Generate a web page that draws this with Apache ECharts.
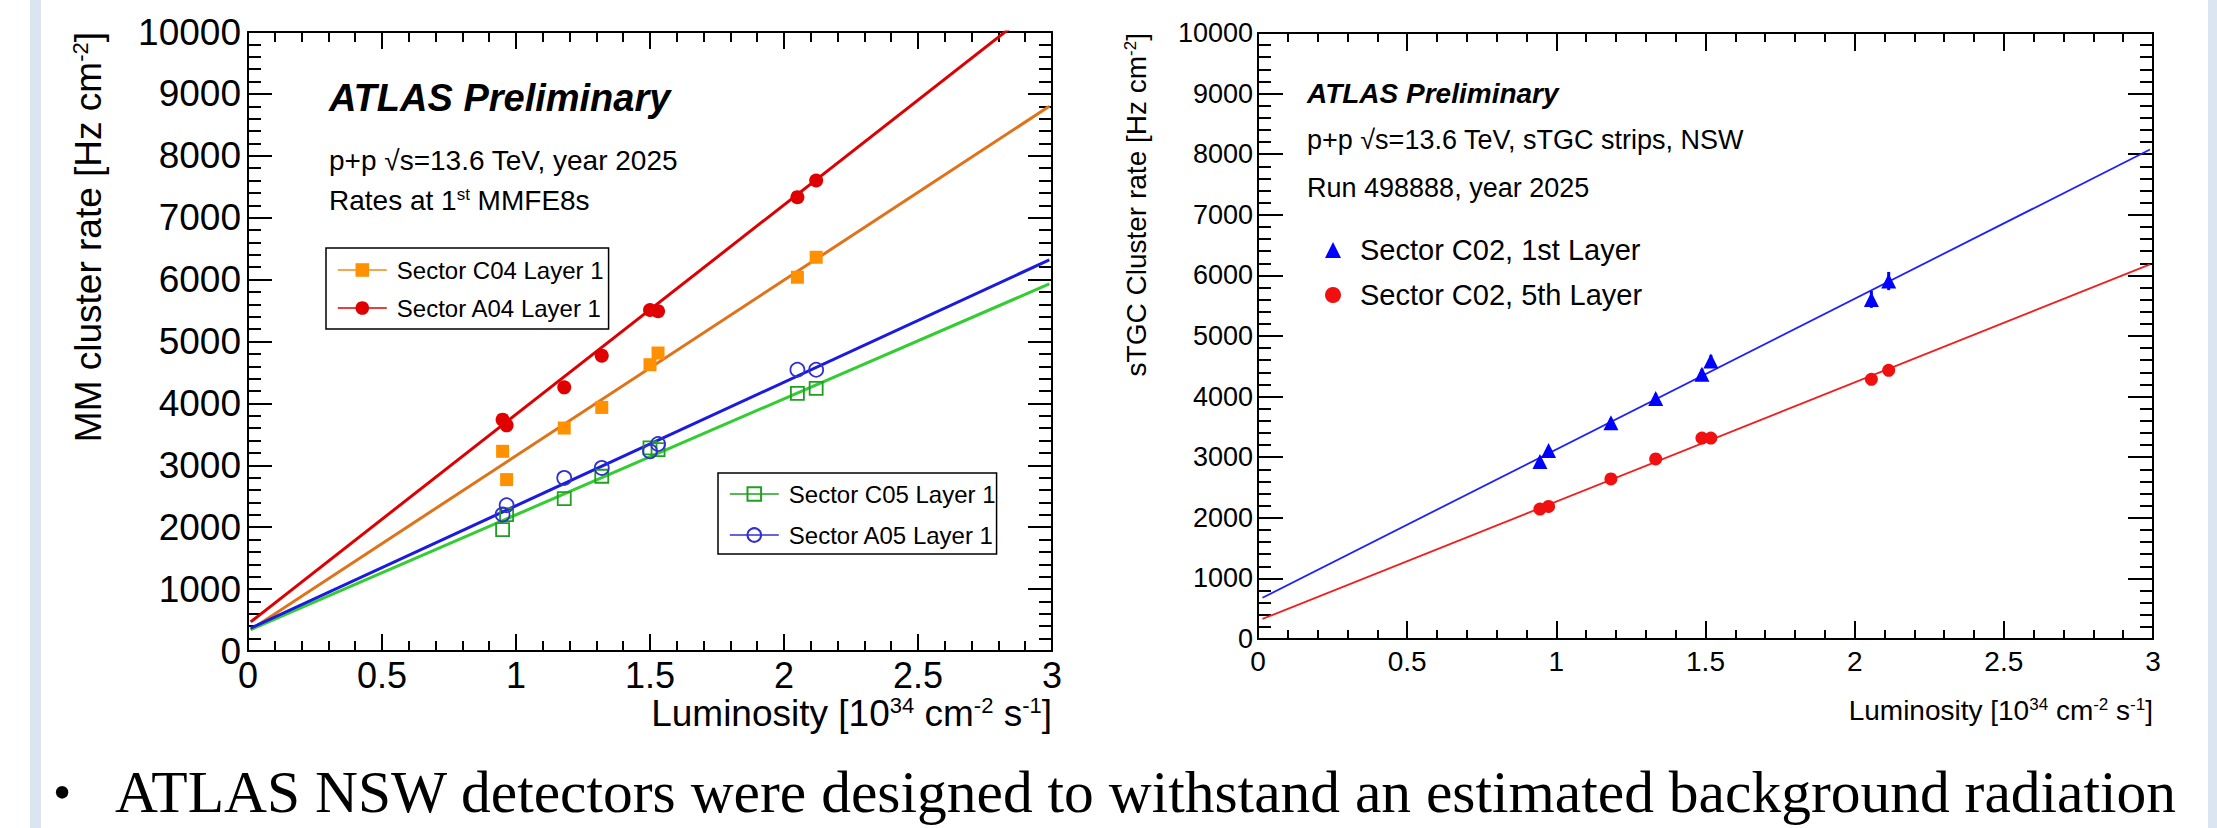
<!DOCTYPE html>
<html>
<head>
<meta charset="utf-8">
<script src="https://cdn.jsdelivr.net/npm/echarts@6/dist/echarts.min.js"></script>
<style>
html, body { margin: 0; padding: 0; background: #fff; }
#chart { width: 2217px; height: 828px; }
</style>
</head>
<body>
<div id="chart"></div>
<script>
// left plot: MM cluster rates vs luminosity
var mmLumi = [0.95, 0.965, 1.18, 1.32, 1.50, 1.53, 2.05, 2.12];
var mmC04 = [3226, 2769, 3602, 3935, 4625, 4814, 6038, 6361];
var mmA04 = [3737, 3645, 4259, 4771, 5509, 5488, 7332, 7601];
var mmC05 = [1962, 2204, 2462, 2823, 3280, 3253, 4162, 4243];
var mmA05 = [2204, 2355, 2796, 2957, 3226, 3344, 4544, 4544];
// linear fits, values at the two ends of the drawn line
var mmFitLumi = [0.01, 2.99];
var mmFitC04 = [345, 8800];
var mmFitA04 = [470, 10560];
var mmFitC05 = [345, 5930];
var mmFitA05 = [370, 6318];

// right plot: sTGC strip cluster rates
var stLumi = [0.945, 0.974, 1.183, 1.333, 1.488, 1.518, 2.056, 2.114];
var stLayer1 = [2928, 3110, 3569, 3970, 4368, 4588, 5604, 5907];
var stLayer1Err = [60, 60, 70, 80, 90, 100, 140, 150];
var stLayer5 = [2144, 2188, 2641, 2972, 3315, 3315, 4286, 4434];
var stFitLumi = [0.015, 2.99];
var stFitLayer1 = [680, 8077];
var stFitLayer5 = [331, 6181];

var xTicks = [0, 0.5, 1, 1.5, 2, 2.5, 3];
var yTicks = [0, 1000, 2000, 3000, 4000, 5000, 6000, 7000, 8000, 9000, 10000];

var SANS = "'Liberation Sans', Arial, Helvetica, sans-serif";
var SERIF = "'Liberation Serif', 'Times New Roman', serif";

function pts(xs, ys)
{
    return xs.map(function (x, i) { return [x, ys[i]]; });
}

function axis(kind, gridIndex, pos, showLabel, fontSize, majorLen, minorLen, margin)
{
    var ticks = kind === "x" ? xTicks : yTicks;
    return {
        type: "value",
        gridIndex: gridIndex,
        position: pos,
        min: ticks[0],
        max: ticks[ticks.length - 1],
        interval: ticks[1] - ticks[0],
        axisLine: { show: true, onZero: false, lineStyle: { color: "#000", width: 2 } },
        axisTick: { show: true, inside: true, length: majorLen, lineStyle: { color: "#000", width: 2 } },
        minorTick: { show: true, splitNumber: 5, length: minorLen, lineStyle: { color: "#000", width: 2 } },
        splitLine: { show: false },
        axisLabel: {
            show: showLabel,
            color: "#000",
            fontFamily: SANS,
            fontSize: fontSize,
            margin: margin,
            formatter: function (v) { return String(v); }
        }
    };
}

function fitLine(name, xi, xs, ys, color, width)
{
    return {
        name: name, type: "line", xAxisIndex: xi, yAxisIndex: xi,
        data: pts(xs, ys), symbol: "none", silent: true, clip: true,
        lineStyle: { color: color, width: width }, z: 2
    };
}

function mmPoints(name, ys, symbol, fill, stroke, lineColor, size)
{
    return {
        name: name, type: "line", xAxisIndex: 0, yAxisIndex: 0,
        data: pts(mmLumi, ys), symbol: symbol, symbolSize: size, showSymbol: true,
        lineStyle: { width: 0, color: lineColor },
        itemStyle: { color: fill, borderColor: stroke, borderWidth: fill === "transparent" ? 1.8 : 0 },
        silent: true, z: 3
    };
}

function sup(size)
{
    return { s: { fontSize: size, fontFamily: SANS, fill: "#000", verticalAlign: "top" } };
}

function txt(x, y, text, size, extra)
{
    var style = { text: text, x: 0, y: 0, fill: "#000", fontFamily: SANS, fontSize: size, align: "left", verticalAlign: "middle" };
    for (var k in extra || {}) style[k] = extra[k];
    return { type: "text", x: x, y: y, style: style, silent: true };
}

var chart = echarts.init(document.getElementById("chart"), null, { renderer: "svg" });

var legendCommon = {
    orient: "vertical", align: "left", selectedMode: false,
    backgroundColor: "#fff", borderColor: "#000", borderWidth: 1.5, borderRadius: 0,
    itemWidth: 49, itemHeight: 17,
    lineStyle: { width: 1.6 },
    textStyle: { color: "#000", fontFamily: SANS, fontSize: 24, lineHeight: 30, padding: [0, 0, 0, 5] }
};

var option = {
    animation: false,
    backgroundColor: "#fff",
    grid: [
        { left: 248, top: 32, width: 804, height: 619, outerBoundsMode: "none" },
        { left: 1258, top: 33, width: 895, height: 606, outerBoundsMode: "none" }
    ],
    xAxis: [
        axis("x", 0, "bottom", true, 36, 17, 10, 6),
        axis("x", 0, "top", false, 36, 17, 10, 6),
        axis("x", 1, "bottom", true, 28, 18, 9, 8),
        axis("x", 1, "top", false, 28, 18, 9, 8)
    ],
    yAxis: [
        axis("y", 0, "left", true, 37, 24, 13, 7),
        axis("y", 0, "right", false, 37, 24, 13, 7),
        axis("y", 1, "left", true, 27, 25, 13, 5),
        axis("y", 1, "right", false, 27, 25, 13, 5)
    ],
    legend: [
        Object.assign({}, legendCommon, {
            left: 326, top: 248, padding: [7, 5, 6, 11], itemGap: 8,
            data: ["Sector C04 Layer 1", "Sector A04 Layer 1"]
        }),
        Object.assign({}, legendCommon, {
            left: 718, top: 473, padding: [6, 1, 4, 11], itemGap: 11,
            data: ["Sector C05 Layer 1", "Sector A05 Layer 1"]
        }),
        {
            orient: "vertical", align: "left", selectedMode: false,
            left: 1325, top: 233, padding: 0, itemGap: 11,
            itemWidth: 16, itemHeight: 16,
            textStyle: { color: "#000", fontFamily: SANS, fontSize: 29, lineHeight: 34, padding: [0, 0, 0, 14] },
            data: ["Sector C02, 1st Layer", "Sector C02, 5th Layer"]
        }
    ],
    series: [
        fitLine("fit C04", 0, mmFitLumi, mmFitC04, "#e0731a", 3),
        fitLine("fit A04", 0, mmFitLumi, mmFitA04, "#dd0000", 3),
        fitLine("fit C05", 0, mmFitLumi, mmFitC05, "#33cc33", 3),
        fitLine("fit A05", 0, mmFitLumi, mmFitA05, "#1a1ae0", 3),
        mmPoints("Sector C04 Layer 1", mmC04, "rect", "#ff9100", "#ff9100", "#f08a1a", 13),
        mmPoints("Sector A04 Layer 1", mmA04, "circle", "#e00000", "#e00000", "#dd0000", 14),
        mmPoints("Sector C05 Layer 1", mmC05, "rect", "transparent", "#1fa01f", "#1fa01f", 13),
        mmPoints("Sector A05 Layer 1", mmA05, "circle", "transparent", "#3030d0", "#3030d0", 14),

        fitLine("fit layer 1", 2, stFitLumi, stFitLayer1, "#2020ff", 1.8),
        fitLine("fit layer 5", 2, stFitLumi, stFitLayer5, "#f02020", 1.8),
        {
            name: "layer 1 errors", type: "custom", xAxisIndex: 2, yAxisIndex: 2, silent: true, z: 3,
            data: stLumi.map(function (x, i) { return [x, stLayer1[i], stLayer1Err[i]]; }),
            renderItem: function (params, api)
            {
                var x = api.value(0), y = api.value(1), e = api.value(2);
                var lo = api.coord([x, y - e]), hi = api.coord([x, y + e]);
                return {
                    type: "line",
                    shape: { x1: lo[0], y1: lo[1], x2: hi[0], y2: hi[1] },
                    style: { stroke: "#0000ff", lineWidth: 3 }
                };
            }
        },
        {
            name: "Sector C02, 1st Layer", type: "scatter", xAxisIndex: 2, yAxisIndex: 2,
            data: pts(stLumi, stLayer1), symbol: "triangle", symbolSize: 15,
            itemStyle: { color: "#0000ff", opacity: 1 }, silent: true, z: 4
        },
        {
            name: "Sector C02, 5th Layer", type: "scatter", xAxisIndex: 2, yAxisIndex: 2,
            data: pts(stLumi, stLayer5), symbol: "circle", symbolSize: 13,
            itemStyle: { color: "#f01010", opacity: 1 }, silent: true, z: 4
        }
    ],
    graphic: [
        { type: "rect", shape: { x: 30, y: 0, width: 11, height: 828 }, style: { fill: "#dbe5f1" }, silent: true },
        { type: "rect", shape: { x: 2208, y: 0, width: 9, height: 828 }, style: { fill: "#dbe5f1" }, silent: true },

        // left plot texts
        Object.assign(txt(88, 32, "MM cluster rate [Hz cm{s|-2}]", 37, { align: "right", rich: sup(22) }), { rotation: Math.PI / 2 }),
        txt(1052, 713, "Luminosity [10{s|34} cm{s|-2} s{s|-1}]", 37, { align: "right", rich: sup(22) }),
        txt(329, 98, "ATLAS Preliminary", 38, { fontWeight: "bold", fontStyle: "italic" }),
        txt(329, 160, "p+p \u221As=13.6 TeV, year 2025", 28),
        txt(329, 200, "Rates at 1{s|st} MMFE8s", 28, { rich: sup(17) }),

        // right plot texts
        Object.assign(txt(1136, 33, "sTGC Cluster rate [Hz cm{s|-2}]", 28, { align: "right", rich: sup(17) }), { rotation: Math.PI / 2 }),
        txt(2153, 710, "Luminosity [10{s|34} cm{s|-2} s{s|-1}]", 28, { align: "right", rich: sup(17) }),
        txt(1307, 93, "ATLAS Preliminary", 28, { fontWeight: "bold", fontStyle: "italic" }),
        txt(1307, 140, "p+p \u221As=13.6 TeV, sTGC strips, NSW", 27),
        txt(1307, 188, "Run 498888, year 2025", 27),

        // slide text below the plots
        txt(62, 792, "\u2022", 52, { fontFamily: SERIF, align: "center" }),
        txt(115, 792, "ATLAS NSW detectors were designed to withstand an estimated background radiation", 59.5, { fontFamily: SERIF })
    ]
};

chart.setOption(option);
</script>
</body>
</html>
